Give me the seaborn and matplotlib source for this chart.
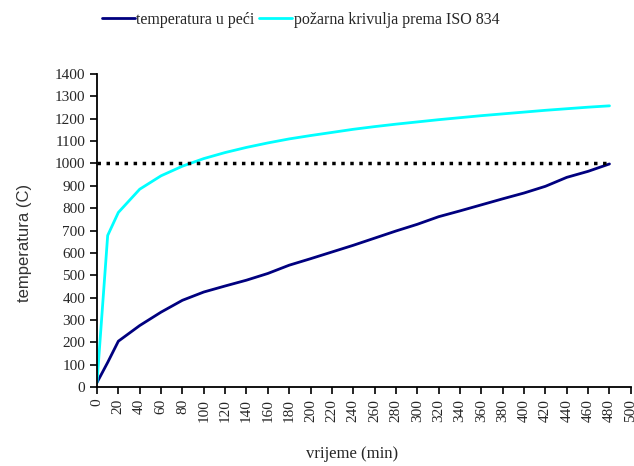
import matplotlib
matplotlib.use("Agg")
import matplotlib.pyplot as plt
import seaborn as sns
import pandas as pd

# vrijeme (min)
vrijeme = [0, 10, 20, 40, 60, 80, 100, 120, 140, 160, 180, 200, 220, 240,
           260, 280, 300, 320, 340, 360, 380, 400, 420, 440, 460, 480]
# temperatura u peci
peci = [20, 110, 205, 275, 335, 388, 425, 452, 478, 508, 545, 574, 604, 634,
        666, 698, 728, 762, 788, 815, 842, 868, 898, 938, 965, 998]
# pozarna krivulja prema ISO 834
iso834 = [20, 678, 781, 885, 945, 988, 1022, 1049, 1072, 1092, 1110, 1125, 1139,
          1153, 1165, 1176, 1186, 1196, 1205, 1214, 1222, 1230, 1238, 1245, 1252, 1258]
granica = 1000

sns.set_style("ticks")
plt.rcParams['font.family'] = ['Liberation Serif', 'DejaVu Serif']

df = pd.DataFrame({"vrijeme": vrijeme, "peci": peci, "iso": iso834})

fig = plt.figure(figsize=(6.34, 4.66), dpi=100)
ax = fig.add_axes([0.153, 0.1695, 0.842, 0.6715])

sns.lineplot(data=df, x="vrijeme", y="peci", ax=ax, color="#00007f", lw=2,
             label="temperatura u peći")
sns.lineplot(data=df, x="vrijeme", y="iso", ax=ax, color="#00ffff", lw=2,
             label="požarna krivulja prema ISO 834")
ax.plot([0, 480], [granica, granica], color="black", lw=2.5, linestyle=(0, (1, 1.6)))

ax.set_xlim(0, 500)
ax.set_ylim(0, 1400)
ax.set_xticks(range(0, 501, 20))
ax.set_yticks(range(0, 1401, 100))
ax.tick_params(axis="x", labelrotation=90, labelsize=11, length=5, width=1.2,
               direction="out", color="black")
ax.tick_params(axis="y", labelsize=11, length=5, width=1.2, direction="out",
               color="black")
for lbl in ax.get_xticklabels():
    lbl.set_verticalalignment("top")
ax.spines["top"].set_visible(False)
ax.spines["right"].set_visible(False)
ax.spines["left"].set_linewidth(1.3)
ax.spines["bottom"].set_linewidth(1.3)
ax.spines["left"].set_color("black")
ax.spines["bottom"].set_color("black")

ax.set_xlabel("vrijeme (min)", fontsize=12)
ax.xaxis.set_label_coords(0.478, -0.19)
ax.set_ylabel("temperatura (C)", fontsize=12, family=["Liberation Sans", "DejaVu Sans"],
              color="#333333")
ax.yaxis.set_label_coords(-0.122, 0.46)

ax.legend(loc="center left", bbox_to_anchor=(-0.003, 1.173), ncol=2, frameon=False,
          fontsize=11.5, handlelength=2.05, handletextpad=0.1, columnspacing=0.3,
          borderaxespad=0)

fig.savefig("out.png", dpi=100)
